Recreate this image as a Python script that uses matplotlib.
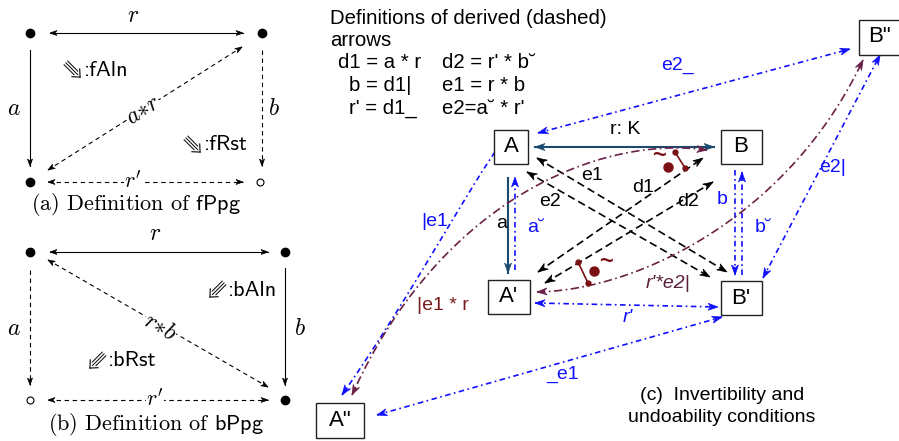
import numpy as np
import matplotlib.pyplot as plt
from matplotlib.patches import Polygon, Rectangle

plt.rcParams['mathtext.fontset'] = 'cm'
plt.rcParams['lines.scale_dashes'] = False
SANS = 'Liberation Sans'

W, H = 899, 441

NAVY = '#1c4a6e'
BLUE = '#1010ff'
MAROON = '#6b2146'
LINK = '#7a1014'

# ---------- panel (a): definition of fPpg ----------
dots_a = [(30, 33, 1), (262, 33, 1), (30, 182, 1), (260, 182, 0)]
edges_a = [
    ((50, 33), (243, 33), 'solid', 'both'),     # r
    ((30, 50), (30, 166), 'solid', 'end'),      # a
    ((262, 50), (262, 166), 'dash', 'end'),     # b
    ((48, 170), (242, 47), 'dash', 'both'),     # a*r
    ((48, 182), (243, 182), 'dash', 'both'),    # r'
]
labels_a = [('$r$', 133, 15, 0), ('$a$', 14, 108, 0), ('$b$', 274, 108, 0),
            ('$a{*}r$', 143, 110, 32), ("$r'$", 133, 181, 0)]
rules_a = [(':fAln', 73, 70, -45), (':fRst', 193, 145, -45)]
caption_a = (r'(a) Definition of $\mathsf{fPpg}$', 136, 204)

# ---------- panel (b): definition of bPpg ----------
dots_b = [(30, 252, 1), (285, 252, 1), (30, 400, 0), (285, 400, 1)]
edges_b = [
    ((50, 252), (268, 252), 'solid', 'both'),   # r
    ((30, 270), (30, 385), 'dash', 'end'),      # a
    ((285, 268), (285, 385), 'solid', 'end'),   # b
    ((48, 260), (268, 387), 'dash', 'both'),    # r*b
    ((48, 400), (268, 400), 'dash', 'both'),    # r'
]
labels_b = [('$r$', 155, 233, 0), ('$a$', 14, 328, 0), ('$b$', 300, 328, 0),
            ('$r{*}b$', 160, 327, -30), ("$r'$", 155, 399, 0)]
rules_b = [(':bAln', 217, 290, -135), (':bRst', 97, 361, -135)]
caption_b = (r'(b) Definition of $\mathsf{bPpg}$', 156, 424)

# ---------- panel (c): invertibility and undoability ----------
boxes = {'A': (511, 147, 34, 34), 'B': (741, 147, 41, 34),
         "A'": (509, 297, 42, 34), "B'": (741, 298, 41, 34),
         'A"': (340, 420, 48, 35), 'B"': (879, 37, 41, 35)}

# name, control points, colour, line style, width, heads
arrows_c = [
    ('r: K', [(535, 147), (714, 147)], NAVY, 'solid', 1.5, 'both'),
    ('a', [(508, 178), (508, 273)], NAVY, 'solid', 1.5, 'end'),
    ('a~', [(515, 270), (515, 177)], BLUE, 'dashdot', 1.2, 'end'),
    ('b', [(735, 170), (735, 275)], BLUE, 'dashdot', 1.2, 'end'),
    ('b~', [(742, 275), (742, 172)], BLUE, 'dashdot', 1.2, 'end'),
    ("r'", [(535, 303), (718, 307)], BLUE, 'dashdot', 1.2, 'both'),
    ('e2_', [(538, 133), (850, 49)], BLUE, 'dashdot', 1.2, 'both'),
    ('e2|', [(763, 278), (880, 55)], BLUE, 'dashdot', 1.2, 'both'),
    ('_e1', [(377, 415), (722, 317)], BLUE, 'dashdot', 1.2, 'both'),
    ('|e1', [(495, 152), (465, 195), (405, 305), (342, 395)], BLUE, 'dashdot', 1.2, 'end'),
    ('e1', [(537, 158), (727, 272)], 'black', 'ldash', 1.2, 'both'),
    ('e2', [(527, 172), (710, 277)], 'black', 'ldash', 1.2, 'both'),
    ('d1', [(538, 272), (703, 158)], 'black', 'ldash', 1.2, 'both'),
    ('d2', [(545, 283), (713, 182)], 'black', 'ldash', 1.2, 'both'),
    ('|e1*r', [(707, 150), (600, 135), (440, 200), (352, 395)], MAROON, 'mdashdot', 1.2, 'both'),
    ("r'*e2|", [(537, 292), (640, 290), (790, 215), (863, 60)], MAROON, 'mdashdot', 1.2, 'both'),
]

# link marks: segment ends, dot, tilde
links = [((675, 152), (685, 168), (668, 167), (659, 156)),
         ((578, 262), (588, 283), (594, 271), (606, 261))]

labels_c = [
    ('r: K', 625, 130, 'black', 'normal'), ('a', 502, 223, 'black', 'normal'),
    ('a\u02d8', 536, 228, BLUE, 'normal'), ('e1', 592, 175, 'black', 'normal'),
    ('e2', 550, 202, 'black', 'normal'), ('d1', 643, 187, 'black', 'normal'),
    ('d2', 688, 201, 'black', 'normal'), ('b', 722, 200, BLUE, 'normal'),
    ('b\u02d8', 763, 228, BLUE, 'normal'), ('e2_', 677, 65, BLUE, 'normal'),
    ('e2|', 833, 168, BLUE, 'normal'), ('|e1', 435, 222, BLUE, 'normal'),
    ('|e1 * r', 443, 305, '#7a1c1c', 'normal'), ("r'*e2|", 668, 284, '#5a1f3c', 'italic'),
    ("r'", 628, 318, BLUE, 'italic'), ('_e1', 563, 374, BLUE, 'normal'),
]

defs_title = ['Definitions of derived (dashed)', 'arrows']
defs_left = ['d1 = a * r', 'b = d1|', "r' = d1_"]
defs_left_x = [338, 349, 349]
defs_right = ["d2 = r' * b\u02d8", 'e1 = r * b', "e2=a\u02d8 * r'"]
caption_c = ['(c)  Invertibility and', 'undoability conditions']

LS = {'solid': '-', 'dash': (0, (3.2, 2.6)), 'ldash': (0, (5.5, 3)),
      'dashdot': (0, (4, 2.5, 1.2, 2.5)), 'mdashdot': (0, (6, 2.5, 1.2, 2.5))}


def bezier(pts, n=120):
    p = np.array(pts, float)
    if len(p) == 2:
        return p
    t = np.linspace(0, 1, n)[:, None]
    return ((1 - t) ** 3 * p[0] + 3 * t * (1 - t) ** 2 * p[1]
            + 3 * t ** 2 * (1 - t) * p[2] + t ** 3 * p[3])


def head(ax, tip, frm, color, L, Wd):
    tip = np.array(tip, float)
    d = tip - np.array(frm, float)
    d /= np.hypot(*d)
    n = np.array([-d[1], d[0]])
    poly = [tip, tip - L * d + Wd / 2 * n, tip - 0.7 * L * d, tip - L * d - Wd / 2 * n]
    ax.add_patch(Polygon(poly, closed=True, fc=color, ec=color, lw=0.5, zorder=4))


def draw(ax, pts, color, style, lw, heads, L=10, Wd=7):
    c = bezier(pts)
    ax.plot(c[:, 0], c[:, 1], color=color, ls=LS[style], lw=lw, zorder=3)
    k = min(6, len(c) - 1)
    if heads in ('end', 'both'):
        head(ax, c[-1], c[-1 - k], color, L, Wd)
    if heads in ('start', 'both'):
        head(ax, c[0], c[k], color, L, Wd)


def triple_arrow(ax, x, y, angle, size=20):
    # three parallel strokes ending in an open arrow head (like \Rrightarrow)
    a = np.deg2rad(angle)
    d = np.array([np.cos(a), -np.sin(a)])   # y axis points down
    n = np.array([-d[1], d[0]])
    c = np.array([x, y], float)
    tip = c + d * size / 2
    for off in (-2.6, 0, 2.6):
        s = c - d * size / 2 + n * off
        e = tip - d * (3.5 + abs(off) * 0.9) + n * off
        ax.plot([s[0], e[0]], [s[1], e[1]], color='black', lw=0.7)
    for sgn in (1, -1):
        b = tip - d * 6 + n * sgn * 5.5
        ax.plot([b[0], tip[0]], [b[1], tip[1]], color='black', lw=0.8)


fig = plt.figure(figsize=(W / 100, H / 100), dpi=100)
ax = fig.add_axes([0, 0, 1, 1])
ax.set_xlim(0, W)
ax.set_ylim(H, 0)
ax.axis('off')

# left panels
for dots, edges, labels, rules, cap in [(dots_a, edges_a, labels_a, rules_a, caption_a),
                                        (dots_b, edges_b, labels_b, rules_b, caption_b)]:
    for x, y, filled in dots:
        if filled:
            ax.plot(x, y, 'o', color='black', ms=6, zorder=5)
        else:
            ax.plot(x, y, 'o', mfc='white', mec='black', mew=0.8, ms=5, zorder=5)
    for p0, p1, st, hd in edges:
        draw(ax, [p0, p1], 'black', st, 0.8, hd, L=7, Wd=5)
    for txt, x, y, rot in labels:
        ax.text(x, y, txt, fontsize=16 if "'" in txt else 17, rotation=rot, ha='center',
                va='center', zorder=6,
                bbox=dict(fc='white', ec='none', pad=0.1) if rot or "'" in txt else None)
    for txt, x, y, rot in rules:
        triple_arrow(ax, x, y, rot)
        ax.text(x + 11, y, txt, fontsize=16, ha='left', va='center', family='cmss10')
    ax.text(cap[1], cap[2], cap[0], fontsize=16, ha='center', va='center', family='cmr10')

# panel (c) boxes
for name, (cx, cy, bw, bh) in boxes.items():
    ax.add_patch(Rectangle((cx - bw / 2, cy - bh / 2), bw, bh, fc='white', ec='#222222',
                           lw=1.0, zorder=5))
    ax.text(cx, cy, name, fontsize=16, ha='center', va='center', family=SANS, zorder=6)

for name, pts, col, st, lw, hd in arrows_c:
    draw(ax, pts, col, st, lw, hd)

for p0, p1, dot, til in links:
    ax.plot([p0[0], p1[0]], [p0[1], p1[1]], '-o', color=LINK, lw=1.2, ms=3.5, zorder=4)
    ax.plot(dot[0], dot[1], 'o', color=LINK, ms=6.5, zorder=4)
    ax.text(til[0], til[1], '~', color=LINK, fontsize=17, ha='center', va='center',
            family=SANS, fontweight='bold')

for txt, x, y, col, sty in labels_c:
    ax.text(x, y, txt, color=col, fontsize=14, style=sty, ha='center', va='center',
            family=SANS, zorder=6)

for i, t in enumerate(defs_title):
    ax.text(330, 18 + 22 * i, t, fontsize=14.7, ha='left', va='center', family=SANS)
for i, (l, r) in enumerate(zip(defs_left, defs_right)):
    ax.text(defs_left_x[i], 63 + 22.5 * i, l, fontsize=14.7, ha='left', va='center', family=SANS)
    ax.text(442, 63 + 22.5 * i, r, fontsize=14.7, ha='left', va='center', family=SANS)
for i, t in enumerate(caption_c):
    ax.text(722, 395 + 23 * i, t, fontsize=14, ha='center', va='center', family=SANS)

fig.savefig('out.png', dpi=100)
